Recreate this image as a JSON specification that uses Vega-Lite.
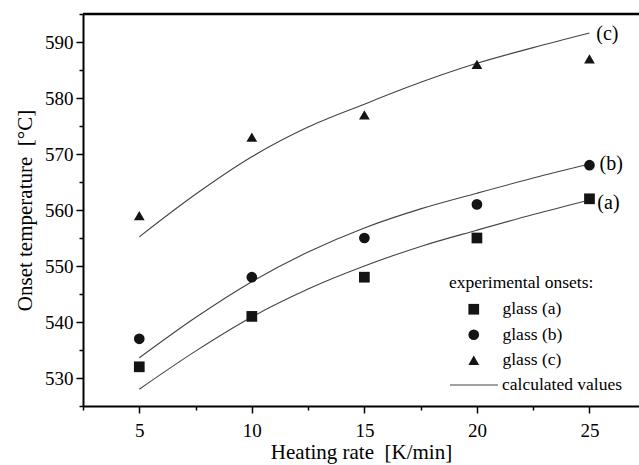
{
  "$schema": "https://vega.github.io/schema/vega-lite/v6.json",
  "width": 556,
  "height": 392,
  "autosize": {"type": "none"},
  "padding": {"left": 83, "top": 14, "right": 0, "bottom": 59},
  "background": "white",
  "config": {
    "view": {"stroke": null},
    "font": "Liberation Serif",
    "style": {
      "guide-label": {"font": "Liberation Serif", "fill": "black"},
      "guide-title": {"font": "Liberation Serif", "fill": "black"}
    },
    "axis": {
      "labelFont": "Liberation Serif",
      "titleFont": "Liberation Serif",
      "labelColor": "black",
      "titleColor": "black",
      "titleFontWeight": "normal",
      "domainColor": "black",
      "tickColor": "black",
      "grid": false,
      "labelOverlap": false
    },
    "legend": {
      "labelFont": "Liberation Serif",
      "titleFont": "Liberation Serif",
      "labelColor": "black",
      "titleColor": "black",
      "titleFontWeight": "normal"
    }
  },
  "datasets": {
    "points": [
      {"rate": 5, "temp": 532, "glass": "glass (a)"},
      {"rate": 10, "temp": 541, "glass": "glass (a)"},
      {"rate": 15, "temp": 548, "glass": "glass (a)"},
      {"rate": 20, "temp": 555, "glass": "glass (a)"},
      {"rate": 25, "temp": 562, "glass": "glass (a)"},
      {"rate": 5, "temp": 537, "glass": "glass (b)"},
      {"rate": 10, "temp": 548, "glass": "glass (b)"},
      {"rate": 15, "temp": 555, "glass": "glass (b)"},
      {"rate": 20, "temp": 561, "glass": "glass (b)"},
      {"rate": 25, "temp": 568, "glass": "glass (b)"},
      {"rate": 5, "temp": 559, "glass": "glass (c)"},
      {"rate": 10, "temp": 573, "glass": "glass (c)"},
      {"rate": 15, "temp": 577, "glass": "glass (c)"},
      {"rate": 20, "temp": 586, "glass": "glass (c)"},
      {"rate": 25, "temp": 587, "glass": "glass (c)"}
    ],
    "curves": [
      {"rate": 5, "temp": 528.0, "curve": "a"},
      {"rate": 7.5, "temp": 534.8, "curve": "a"},
      {"rate": 10, "temp": 540.9, "curve": "a"},
      {"rate": 12.5, "temp": 545.9, "curve": "a"},
      {"rate": 15, "temp": 550.0, "curve": "a"},
      {"rate": 17.5, "temp": 553.5, "curve": "a"},
      {"rate": 20, "temp": 556.4, "curve": "a"},
      {"rate": 22.5, "temp": 559.2, "curve": "a"},
      {"rate": 25, "temp": 561.8, "curve": "a"},
      {"rate": 5, "temp": 533.6, "curve": "b"},
      {"rate": 7.5, "temp": 540.8, "curve": "b"},
      {"rate": 10, "temp": 547.2, "curve": "b"},
      {"rate": 12.5, "temp": 552.5, "curve": "b"},
      {"rate": 15, "temp": 556.8, "curve": "b"},
      {"rate": 17.5, "temp": 560.2, "curve": "b"},
      {"rate": 20, "temp": 563.0, "curve": "b"},
      {"rate": 22.5, "temp": 565.7, "curve": "b"},
      {"rate": 25, "temp": 568.2, "curve": "b"},
      {"rate": 5, "temp": 555.2, "curve": "c"},
      {"rate": 7.5, "temp": 562.8, "curve": "c"},
      {"rate": 10, "temp": 569.5, "curve": "c"},
      {"rate": 12.5, "temp": 574.8, "curve": "c"},
      {"rate": 15, "temp": 578.9, "curve": "c"},
      {"rate": 17.5, "temp": 582.8, "curve": "c"},
      {"rate": 20, "temp": 586.2, "curve": "c"},
      {"rate": 22.5, "temp": 589.0, "curve": "c"},
      {"rate": 25, "temp": 591.6, "curve": "c"}
    ],
    "labels": [
      {"rate": 25.3, "temp": 591.5, "label": "(c)"},
      {"rate": 25.45, "temp": 568.2, "label": "(b)"},
      {"rate": 25.35, "temp": 561.3, "label": "(a)"}
    ],
    "frame": [
      {"temp": 595}
    ]
  },
  "layer": [
    {
      "data": {"name": "curves"},
      "mark": {"type": "line", "interpolate": "monotone", "strokeWidth": 1.1},
      "encoding": {
        "x": {
          "field": "rate", "type": "quantitative",
          "scale": {"domain": [2.5, 27.2], "nice": false, "zero": false},
          "axis": {
            "orient": "bottom",
            "values": [2.5, 5, 7.5, 10, 12.5, 15, 17.5, 20, 22.5, 25],
            "tickCount": 40,
            "format": "d",
            "labelExpr": "datum.value % 5 === 0 ? datum.label : ''",
            "labelOverlap": false,
            "tickSize": {"condition": {"test": "datum.value % 5 === 0", "value": 7}, "value": 4},
            "tickWidth": 1.5,
            "domainWidth": 2,
            "labelFont": "Liberation Serif",
            "labelFontSize": 19,
            "labelPadding": 8,
            "title": "Heating rate\u00a0 [K/min]",
            "titleFont": "Liberation Serif",
            "titleFontSize": 21,
            "titlePadding": 1
          }
        },
        "y": {
          "field": "temp", "type": "quantitative",
          "scale": {"domain": [525, 595], "nice": false, "zero": false},
          "axis": {
            "orient": "left",
            "values": [525, 530, 535, 540, 545, 550, 555, 560, 565, 570, 575, 580, 585, 590, 595],
            "tickCount": 40,
            "format": "d",
            "labelExpr": "datum.value % 10 === 0 ? datum.label : ''",
            "labelOverlap": false,
            "tickSize": {"condition": {"test": "datum.value % 10 === 0", "value": 7}, "value": 4},
            "tickWidth": 1.5,
            "domainWidth": 2,
            "labelFont": "Liberation Serif",
            "labelFontSize": 19,
            "labelPadding": 3,
            "title": "Onset temperature\u00a0 [°C]",
            "titleFont": "Liberation Serif",
            "titleFontSize": 21,
            "titlePadding": 9
          }
        },
        "detail": {"field": "curve", "type": "nominal"},
        "color": {
          "datum": "calculated values",
          "type": "nominal",
          "scale": {"range": ["#444444"]},
          "legend": {
            "orient": "none",
            "legendX": 366,
            "legendY": 346,
            "title": null,
            "padding": 0,
            "symbolType": "stroke",
            "symbolSize": 2304,
            "symbolStrokeWidth": 1.1,
            "labelFont": "Liberation Serif",
            "labelFontSize": 17.5,
            "labelOffset": 3
          }
        }
      }
    },
    {
      "data": {"name": "points"},
      "mark": {"type": "point", "filled": true, "color": "#141414", "opacity": 1, "size": 115},
      "encoding": {
        "x": {"field": "rate", "type": "quantitative", "scale": {"domain": [2.5, 27.2], "nice": false, "zero": false}},
        "y": {"field": "temp", "type": "quantitative", "scale": {"domain": [525, 595], "nice": false, "zero": false}},
        "shape": {
          "field": "glass", "type": "nominal",
          "scale": {"domain": ["glass (a)", "glass (b)", "glass (c)"], "range": ["square", "circle", "triangle-up"]},
          "legend": {
            "orient": "none",
            "legendX": 366,
            "legendY": 260,
            "title": "experimental onsets:",
            "titleFont": "Liberation Serif",
            "titleFontSize": 17.5,
            "titlePadding": 9,
            "padding": 0,
            "symbolOffset": 16,
            "symbolSize": 115,
            "symbolFillColor": "#141414",
            "symbolStrokeColor": "#141414",
            "symbolOpacity": 1,
            "labelFont": "Liberation Serif",
            "labelFontSize": 17.5,
            "labelOffset": 20,
            "rowPadding": 6.5
          }
        }
      }
    },
    {
      "data": {"name": "labels"},
      "mark": {"type": "text", "align": "left", "baseline": "middle", "fontSize": 20, "font": "Liberation Serif", "color": "black"},
      "encoding": {
        "x": {"field": "rate", "type": "quantitative", "scale": {"domain": [2.5, 27.2], "nice": false, "zero": false}},
        "y": {"field": "temp", "type": "quantitative", "scale": {"domain": [525, 595], "nice": false, "zero": false}},
        "text": {"field": "label"}
      }
    },
    {
      "data": {"name": "frame"},
      "mark": {"type": "rule", "strokeWidth": 2.5, "color": "black"},
      "encoding": {"y": {"field": "temp", "type": "quantitative", "scale": {"domain": [525, 595], "nice": false, "zero": false}}}
    }
  ]
}
